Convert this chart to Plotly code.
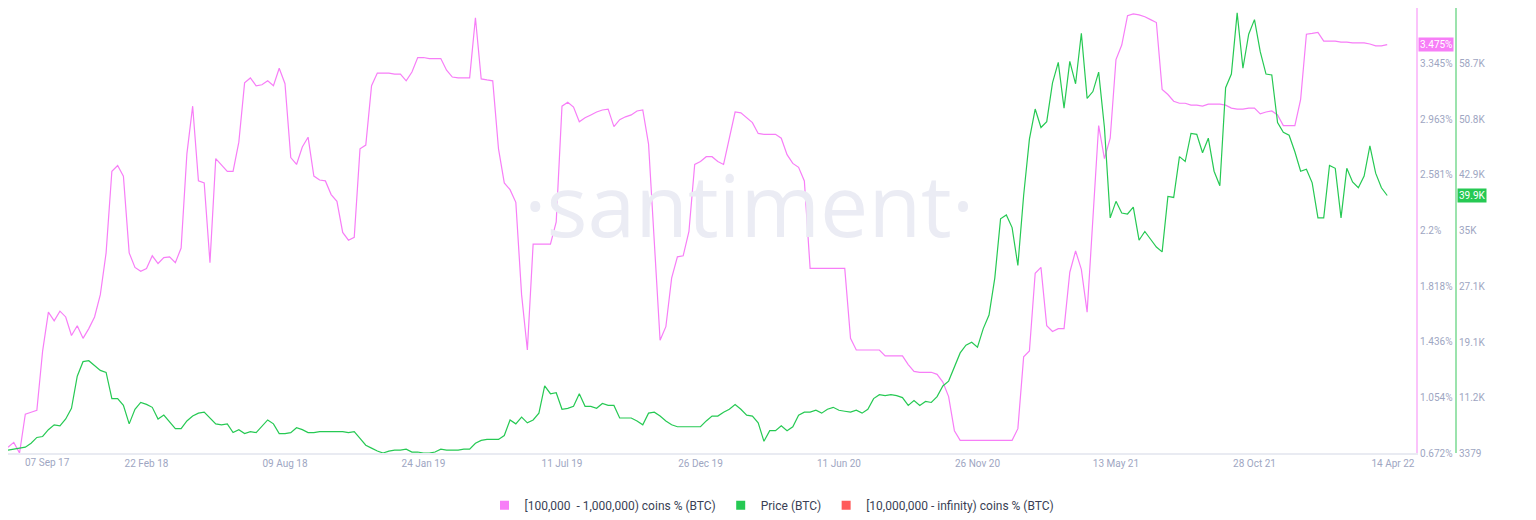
import pandas as pd
import plotly.graph_objects as go

dates = pd.date_range(start="2017-09-07", periods=240, freq="7D")

holders_pct = [
0.712,0.745,0.672,0.939,0.952,0.965,1.372,1.639,1.579,1.646,1.606,1.479,1.546,1.459,1.526,1.606,1.759,2.046,2.606,2.646,
2.573,2.046,1.946,1.919,1.939,2.026,1.973,2.013,2.019,1.979,2.079,2.726,3.053,2.540,2.526,1.979,2.693,2.653,2.606,2.606,
2.806,3.213,3.247,3.193,3.200,3.227,3.193,3.313,3.207,2.700,2.653,2.773,2.840,2.573,2.546,2.540,2.446,2.400,2.186,2.133,
2.153,2.760,2.786,3.193,3.280,3.280,3.280,3.273,3.273,3.227,3.287,3.387,3.387,3.380,3.380,3.380,3.300,3.253,3.247,3.247,
3.247,3.660,3.240,3.233,3.227,2.760,2.526,2.480,2.393,1.759,1.379,2.106,2.106,2.106,2.106,2.259,3.053,3.080,3.047,2.946,
2.973,2.993,3.013,3.027,3.033,2.913,2.960,2.980,2.993,3.020,3.027,2.793,2.113,1.446,1.539,1.873,2.019,2.026,2.193,2.653,
2.673,2.706,2.706,2.673,2.653,2.826,3.013,3.007,2.973,2.940,2.866,2.860,2.860,2.860,2.833,2.720,2.660,2.633,2.540,1.939,
1.939,1.939,1.939,1.939,1.939,1.939,1.459,1.379,1.379,1.379,1.379,1.379,1.339,1.339,1.339,1.339,1.279,1.232,1.226,1.226,
1.226,1.212,1.159,1.059,0.825,0.759,0.759,0.759,0.759,0.759,0.759,0.759,0.759,0.759,0.759,0.839,1.332,1.372,1.906,1.946,
1.546,1.506,1.526,1.526,1.913,2.059,1.933,1.639,2.313,2.920,2.693,2.833,3.373,3.473,3.674,3.687,3.680,3.667,3.647,3.627,
3.167,3.133,3.087,3.073,3.073,3.060,3.060,3.053,3.067,3.067,3.067,3.060,3.040,3.033,3.033,3.040,3.040,3.000,3.013,3.020,
2.993,2.920,2.920,2.920,3.100,3.547,3.553,3.560,3.500,3.500,3.500,3.493,3.493,3.487,3.487,3.487,3.480,3.467,3.467,3.475]

price = [
3793,3931,4069,4207,4759,5588,5726,6692,7382,7244,8210,9729,14284,16355,16493,15803,15113,14836,11106,11106,
10143,7520,9591,10557,10281,9867,8210,8762,7796,6830,6830,7934,8625,9039,9177,8348,7520,7382,7520,6278,
6692,6140,6416,6278,7106,8072,7520,6140,6140,6278,6968,6692,6278,6278,6416,6416,6416,6416,6416,6278,
6416,5450,4483,4069,3655,3379,3655,3793,3793,3931,3517,3517,3379,3379,3517,3931,3793,3793,3793,3931,
3931,4759,5174,5312,5312,5312,5864,8072,7520,8486,7658,8072,9039,12904,11799,11937,9591,9729,10005,11799,
10005,10005,9729,10419,10143,10143,8348,8348,8348,7934,7382,9039,9177,8625,7934,7382,7106,7106,7106,7106,
7106,7934,8625,8625,9177,9591,10281,9591,8762,8625,7658,5035,6554,6554,7244,6554,7106,8762,9177,9177,
9453,9039,9591,9867,9453,9315,9177,9453,9039,9591,11106,11661,11523,11661,11523,11247,10143,10833,10143,10695,
10557,11385,12904,13594,15527,17597,18701,19115,18425,21048,22981,28226,36647,37199,35404,30021,39960,47966,52245,49622,
50450,55972,58871,52383,59009,55834,63012,53764,54730,57491,49622,36785,39131,37475,37337,38303,33610,34852,33748,32643,
31953,39822,39684,45481,44791,48794,48656,46033,48104,43411,41340,55282,57215,65911,58043,62874,64945,60389,57215,57077,
50313,48932,48518,46171,43411,43687,41754,36785,36785,44239,43825,36785,43825,41892,41064,42720,47000,43135,41064,39960]

x_ticks = ["2018-02-22","2018-08-09","2019-01-24","2019-07-11","2019-12-26",
           "2020-06-11","2020-11-26","2021-05-13","2021-10-28","2022-04-14"]
x_ticktext = ["22 Feb 18","09 Aug 18","24 Jan 19","11 Jul 19","26 Dec 19",
              "11 Jun 20","26 Nov 20","13 May 21","28 Oct 21","14 Apr 22"]
first_tick = "07 Sep 17"
pct_ticks = [0.672,1.054,1.436,1.818,2.2,2.581,2.963,3.345,3.727]
pct_text = ["0.672%","1.054%","1.436%","1.818%","2.2%","2.581%","2.963%","3.345%","3.727%"]
price_ticks = [3379,11200,19100,27100,35000,42900,50800,58700,66600]
price_text = ["3379","11.2K","19.1K","27.1K","35K","42.9K","50.8K","58.7K","66.6K"]
legend_names = ["[100,000  - 1,000,000) coins % (BTC)", "Price (BTC)", "[10,000,000 - infinity) coins % (BTC)"]
legend_colors = ["#f77ef7", "#26c953", "#ff5b5b"]

PINK = "#f77ef7"
GREEN = "#26c953"
TICK = "#9ea6c2"

fig = go.Figure()
fig.add_trace(go.Scatter(x=dates, y=holders_pct, mode="lines", line=dict(color=PINK, width=1.2),
                         yaxis="y", showlegend=False))
fig.add_trace(go.Scatter(x=dates, y=price, mode="lines", line=dict(color=GREEN, width=1.2),
                         yaxis="y2", showlegend=False))
for n, c in zip(legend_names, legend_colors):
    fig.add_trace(go.Scatter(x=[None], y=[None], mode="markers", name=n,
                             marker=dict(symbol="square", size=9, color=c)))

fig.update_layout(
    width=1528, height=512, paper_bgcolor="white", plot_bgcolor="white",
    margin=dict(l=0, r=0, t=0, b=57),
    font=dict(family="Roboto, sans-serif", color=TICK, size=10),
    xaxis=dict(domain=[0, 0.9215], range=["2017-09-07", "2022-05-12"], tickvals=x_ticks,
               ticktext=x_ticktext, showgrid=False, showline=True, linecolor="#e9ebf2",
               linewidth=2, ticks="", tickfont=dict(size=10, color=TICK), zeroline=False),
    yaxis=dict(side="right", range=[0.672, 3.727], tickvals=pct_ticks, ticktext=pct_text,
               showgrid=False, showline=True, linecolor="#fbc3fb", linewidth=2, zeroline=False,
               tickfont=dict(size=10, color=TICK), anchor="x"),
    yaxis2=dict(overlaying="y", side="right", anchor="free", position=0.9476,
                range=[3379, 66600], tickvals=price_ticks, ticktext=price_text,
                showgrid=False, showline=True, linecolor="#9be3ad", linewidth=2, zeroline=False,
                tickfont=dict(size=10, color=TICK)),
    legend=dict(orientation="h", x=0.5, xanchor="center", y=-0.085, yanchor="top",
                font=dict(size=12, color="#3a3f55", family="Roboto, sans-serif"),
                itemwidth=30, tracegroupgap=0),
)
fig.add_annotation(x=0.0095, y=0, xref="paper", yref="paper", yanchor="top", yshift=-2,
                   text=first_tick, showarrow=False, font=dict(size=10, color=TICK))
fig.add_annotation(x=0.485, y=0.56, xref="paper", yref="paper", text="·santiment·",
                   showarrow=False, font=dict(size=86, color="#ebecf4", family="Open Sans, sans-serif"))
fig.add_annotation(x=0.9225, y=holders_pct[-1], xref="paper", yref="y", text="3.475%",
                   showarrow=False, bgcolor=PINK, font=dict(color="white", size=10), xanchor="left",
                   borderpad=1)
fig.add_annotation(x=0.9486, y=price[-1], xref="paper", yref="y2", text="39.9K",
                   showarrow=False, bgcolor=GREEN, font=dict(color="white", size=10), xanchor="left",
                   borderpad=1)
fig.write_html("out.html")
